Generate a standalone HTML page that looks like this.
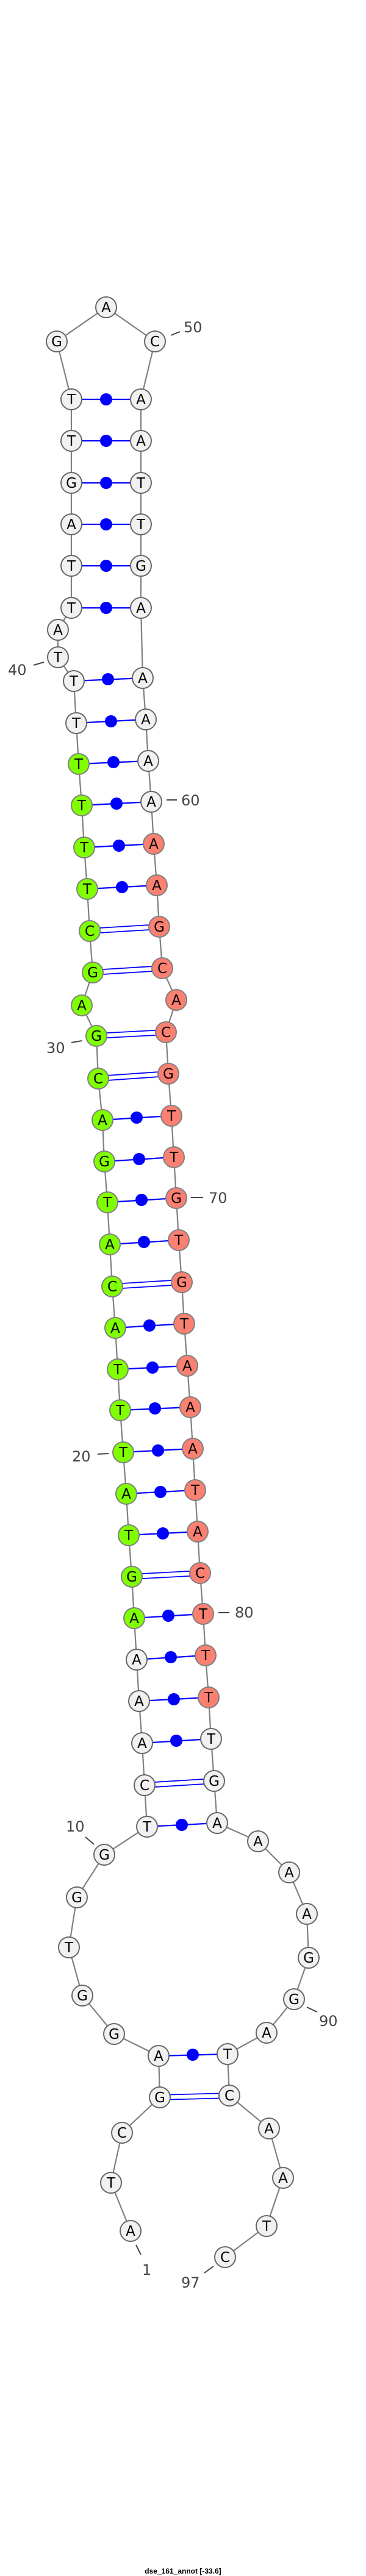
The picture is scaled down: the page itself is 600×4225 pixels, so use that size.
<!DOCTYPE html>
<html><head><meta charset="utf-8"><style>
html,body{margin:0;padding:0;background:#fff;}
svg{display:block;}
.b{fill:none;stroke:#808080;stroke-width:2.2;}
.p{stroke:#0000ff;stroke-width:2.2;}
.d{stroke:#0000ff;stroke-width:1.8;}
.w{fill:#f1f1f1;stroke:#666;stroke-width:2;}
.g{fill:#7fff00;stroke:#808080;stroke-width:2;}
.s{fill:#fa8072;stroke:#808080;stroke-width:2;}
.t{font-family:"DejaVu Sans","Liberation Sans",sans-serif;font-size:23px;text-anchor:middle;fill:#000;}
.n{font-family:"DejaVu Sans","Liberation Sans",sans-serif;font-size:24px;fill:#444;}
.k{stroke:#444;stroke-width:2;}
</style></head><body>
<svg width="600" height="4225" viewBox="0 0 600 4225" xmlns="http://www.w3.org/2000/svg">
<polyline class="b" points="214,3659 182,3580 200,3498 262,3440 260,3372 187,3336 135,3273 113,3194 126,3112 171,3042 241,2996 237,2928 233,2859 228,2790 224,2722 220,2654 216,2586 211,2518 207,2450 202,2382 197,2313 193,2246 189,2178 184,2110 180,2041 176,1972 171,1905 168,1837 161,1769 158,1699 134,1649 152,1595 147,1527 143,1458 138,1390 134,1321 129,1253 125,1186 121,1117 95,1078 95,1033 117,997 117,928 117,860 117,792 117,723 117,655 93,560 174,504 254,560 231,655 231,723 231,792 231,860 231,928 231,997 234,1112 239,1180 243,1248 248,1315 252,1384 257,1452 261,1520 266,1588 289,1640 272,1693 276,1761 281,1830 285,1898 289,1965 293,2034 298,2103 302,2171 307,2240 312,2308 316,2376 320,2444 324,2512 328,2580 333,2647 337,2715 342,2784 346,2852 351,2921 356,2990 423,3020 474,3071 503,3139 506,3211 482,3279 437,3334 373,3369 376,3437 441,3491 464,3572 437,3651 369,3702"/>
<!-- single pairs -->
<g class="p">
<line x1="241" y1="2996" x2="356" y2="2990"/>
<line x1="233" y1="2859" x2="346" y2="2852"/>
<line x1="228" y1="2790" x2="342" y2="2784"/>
<line x1="224" y1="2722" x2="337" y2="2715"/>
<line x1="220" y1="2654" x2="333" y2="2647"/>
<line x1="211" y1="2518" x2="324" y2="2512"/>
<line x1="207" y1="2450" x2="320" y2="2444"/>
<line x1="202" y1="2382" x2="316" y2="2376"/>
<line x1="197" y1="2313" x2="312" y2="2308"/>
<line x1="193" y1="2246" x2="307" y2="2240"/>
<line x1="189" y1="2178" x2="302" y2="2171"/>
<line x1="180" y1="2041" x2="293" y2="2034"/>
<line x1="176" y1="1972" x2="289" y2="1965"/>
<line x1="171" y1="1905" x2="285" y2="1898"/>
<line x1="168" y1="1837" x2="281" y2="1830"/>
<line x1="143" y1="1458" x2="257" y2="1452"/>
<line x1="138" y1="1390" x2="252" y2="1384"/>
<line x1="134" y1="1321" x2="248" y2="1315"/>
<line x1="129" y1="1253" x2="243" y2="1248"/>
<line x1="125" y1="1186" x2="239" y2="1180"/>
<line x1="121" y1="1117" x2="234" y2="1112"/>
<line x1="117" y1="997" x2="231" y2="997"/>
<line x1="117" y1="928" x2="231" y2="928"/>
<line x1="117" y1="860" x2="231" y2="860"/>
<line x1="117" y1="792" x2="231" y2="792"/>
<line x1="117" y1="723" x2="231" y2="723"/>
<line x1="117" y1="655" x2="231" y2="655"/>
<line x1="260" y1="3372" x2="373" y2="3369"/>
</g>
<g fill="#0000ff">
<circle cx="298" cy="2993" r="10"/><circle cx="289" cy="2855" r="10"/><circle cx="285" cy="2787" r="10"/><circle cx="280" cy="2718" r="10"/><circle cx="276" cy="2650" r="10"/><circle cx="267" cy="2515" r="10"/><circle cx="263" cy="2447" r="10"/><circle cx="259" cy="2379" r="10"/><circle cx="254" cy="2310" r="10"/><circle cx="250" cy="2243" r="10"/><circle cx="245" cy="2174" r="10"/><circle cx="236" cy="2037" r="10"/><circle cx="232" cy="1968" r="10"/><circle cx="228" cy="1901" r="10"/><circle cx="224" cy="1833" r="10"/><circle cx="200" cy="1455" r="10"/><circle cx="195" cy="1387" r="10"/><circle cx="191" cy="1318" r="10"/><circle cx="186" cy="1250" r="10"/><circle cx="182" cy="1183" r="10"/><circle cx="177" cy="1114" r="10"/><circle cx="174" cy="997" r="10"/><circle cx="174" cy="928" r="10"/><circle cx="174" cy="860" r="10"/><circle cx="174" cy="792" r="10"/><circle cx="174" cy="723" r="10"/><circle cx="174" cy="655" r="10"/><circle cx="316" cy="3370" r="10"/>
</g>
<!-- double pairs -->
<g class="d">
<line x1="237" y1="2924" x2="351" y2="2917"/><line x1="237" y1="2932" x2="351" y2="2925"/>
<line x1="216" y1="2582" x2="328" y2="2576"/><line x1="216" y1="2590" x2="328" y2="2584"/>
<line x1="184" y1="2106" x2="298" y2="2099"/><line x1="184" y1="2114" x2="298" y2="2107"/>
<line x1="161" y1="1765" x2="276" y2="1757"/><line x1="161" y1="1773" x2="276" y2="1765"/>
<line x1="158" y1="1695" x2="272" y2="1689"/><line x1="158" y1="1703" x2="272" y2="1697"/>
<line x1="152" y1="1591" x2="266" y2="1584"/><line x1="152" y1="1599" x2="266" y2="1592"/>
<line x1="147" y1="1523" x2="261" y2="1516"/><line x1="147" y1="1531" x2="261" y2="1524"/>
<line x1="262" y1="3436" x2="376" y2="3433"/><line x1="262" y1="3444" x2="376" y2="3441"/>
</g>
<!-- label ticks -->
<g class="k">
<line x1="280" y1="550" x2="295" y2="544"/>
<line x1="273" y1="1312" x2="290" y2="1312"/>
<line x1="313" y1="1964" x2="333" y2="1964"/>
<line x1="358" y1="2645" x2="376" y2="2645"/>
<line x1="503" y1="3292" x2="520" y2="3300"/>
<line x1="335" y1="3728" x2="350" y2="3717"/>
<line x1="223" y1="3682" x2="231" y2="3698"/>
<line x1="140" y1="3013" x2="154" y2="3025"/>
<line x1="160" y1="2385" x2="178" y2="2384"/>
<line x1="117" y1="1710" x2="134" y2="1707"/>
<line x1="55" y1="1091" x2="72" y2="1086"/>
</g>
<g class="n">
<text x="301" y="545">50</text>
<text x="297" y="1321">60</text>
<text x="342" y="1973">70</text>
<text x="385" y="2653">80</text>
<text x="523" y="3323">90</text>
<text x="297" y="3752">97</text>
<text x="233" y="3731">1</text>
<text x="108" y="3004">10</text>
<text x="118" y="2397">20</text>
<text x="76" y="1727">30</text>
<text x="13" y="1107">40</text>
</g>
<!-- nodes -->
<g>
<circle class="w" cx="214" cy="3659" r="17"/><circle class="w" cx="182" cy="3580" r="17"/><circle class="w" cx="200" cy="3498" r="17"/><circle class="w" cx="262" cy="3440" r="17"/><circle class="w" cx="260" cy="3372" r="17"/><circle class="w" cx="187" cy="3336" r="17"/><circle class="w" cx="135" cy="3273" r="17"/><circle class="w" cx="113" cy="3194" r="17"/><circle class="w" cx="126" cy="3112" r="17"/><circle class="w" cx="171" cy="3042" r="17"/><circle class="w" cx="241" cy="2996" r="17"/><circle class="w" cx="237" cy="2928" r="17"/><circle class="w" cx="233" cy="2859" r="17"/><circle class="w" cx="228" cy="2790" r="17"/><circle class="w" cx="224" cy="2722" r="17"/>
<circle class="g" cx="220" cy="2654" r="17"/><circle class="g" cx="216" cy="2586" r="17"/><circle class="g" cx="211" cy="2518" r="17"/><circle class="g" cx="207" cy="2450" r="17"/><circle class="g" cx="202" cy="2382" r="17"/><circle class="g" cx="197" cy="2313" r="17"/><circle class="g" cx="193" cy="2246" r="17"/><circle class="g" cx="189" cy="2178" r="17"/><circle class="g" cx="184" cy="2110" r="17"/><circle class="g" cx="180" cy="2041" r="17"/><circle class="g" cx="176" cy="1972" r="17"/><circle class="g" cx="171" cy="1905" r="17"/><circle class="g" cx="168" cy="1837" r="17"/><circle class="g" cx="161" cy="1769" r="17"/><circle class="g" cx="158" cy="1699" r="17"/><circle class="g" cx="134" cy="1649" r="17"/><circle class="g" cx="152" cy="1595" r="17"/><circle class="g" cx="147" cy="1527" r="17"/><circle class="g" cx="143" cy="1458" r="17"/><circle class="g" cx="138" cy="1390" r="17"/><circle class="g" cx="134" cy="1321" r="17"/><circle class="g" cx="129" cy="1253" r="17"/>
<circle class="w" cx="125" cy="1186" r="17"/><circle class="w" cx="121" cy="1117" r="17"/><circle class="w" cx="95" cy="1078" r="17"/><circle class="w" cx="95" cy="1033" r="17"/><circle class="w" cx="117" cy="997" r="17"/><circle class="w" cx="117" cy="928" r="17"/><circle class="w" cx="117" cy="860" r="17"/><circle class="w" cx="117" cy="792" r="17"/><circle class="w" cx="117" cy="723" r="17"/><circle class="w" cx="117" cy="655" r="17"/><circle class="w" cx="93" cy="560" r="17"/><circle class="w" cx="174" cy="504" r="17"/><circle class="w" cx="254" cy="560" r="17"/><circle class="w" cx="231" cy="655" r="17"/><circle class="w" cx="231" cy="723" r="17"/><circle class="w" cx="231" cy="792" r="17"/><circle class="w" cx="231" cy="860" r="17"/><circle class="w" cx="231" cy="928" r="17"/><circle class="w" cx="231" cy="997" r="17"/><circle class="w" cx="234" cy="1112" r="17"/><circle class="w" cx="239" cy="1180" r="17"/><circle class="w" cx="243" cy="1248" r="17"/><circle class="w" cx="248" cy="1315" r="17"/>
<circle class="s" cx="252" cy="1384" r="17"/><circle class="s" cx="257" cy="1452" r="17"/><circle class="s" cx="261" cy="1520" r="17"/><circle class="s" cx="266" cy="1588" r="17"/><circle class="s" cx="289" cy="1640" r="17"/><circle class="s" cx="272" cy="1693" r="17"/><circle class="s" cx="276" cy="1761" r="17"/><circle class="s" cx="281" cy="1830" r="17"/><circle class="s" cx="285" cy="1898" r="17"/><circle class="s" cx="289" cy="1965" r="17"/><circle class="s" cx="293" cy="2034" r="17"/><circle class="s" cx="298" cy="2103" r="17"/><circle class="s" cx="302" cy="2171" r="17"/><circle class="s" cx="307" cy="2240" r="17"/><circle class="s" cx="312" cy="2308" r="17"/><circle class="s" cx="316" cy="2376" r="17"/><circle class="s" cx="320" cy="2444" r="17"/><circle class="s" cx="324" cy="2512" r="17"/><circle class="s" cx="328" cy="2580" r="17"/><circle class="s" cx="333" cy="2647" r="17"/><circle class="s" cx="337" cy="2715" r="17"/><circle class="s" cx="342" cy="2784" r="17"/>
<circle class="w" cx="346" cy="2852" r="17"/><circle class="w" cx="351" cy="2921" r="17"/><circle class="w" cx="356" cy="2990" r="17"/><circle class="w" cx="423" cy="3020" r="17"/><circle class="w" cx="474" cy="3071" r="17"/><circle class="w" cx="503" cy="3139" r="17"/><circle class="w" cx="506" cy="3211" r="17"/><circle class="w" cx="482" cy="3279" r="17"/><circle class="w" cx="437" cy="3334" r="17"/><circle class="w" cx="373" cy="3369" r="17"/><circle class="w" cx="376" cy="3437" r="17"/><circle class="w" cx="441" cy="3491" r="17"/><circle class="w" cx="464" cy="3572" r="17"/><circle class="w" cx="437" cy="3651" r="17"/><circle class="w" cx="369" cy="3702" r="17"/>
</g>
<g class="t">
<text x="214" y="3667">A</text><text x="182" y="3588">T</text><text x="200" y="3506">C</text><text x="262" y="3448">G</text><text x="260" y="3380">A</text><text x="187" y="3344">G</text><text x="135" y="3281">G</text><text x="113" y="3202">T</text><text x="126" y="3120">G</text><text x="171" y="3050">G</text><text x="241" y="3004">T</text><text x="237" y="2936">C</text><text x="233" y="2867">A</text><text x="228" y="2798">A</text><text x="224" y="2730">A</text>
<text x="220" y="2662">A</text><text x="216" y="2594">G</text><text x="211" y="2526">T</text><text x="207" y="2458">A</text><text x="202" y="2390">T</text><text x="197" y="2321">T</text><text x="193" y="2254">T</text><text x="189" y="2186">A</text><text x="184" y="2118">C</text><text x="180" y="2049">A</text><text x="176" y="1980">T</text><text x="171" y="1913">G</text><text x="168" y="1845">A</text><text x="161" y="1777">C</text><text x="158" y="1707">G</text><text x="134" y="1657">A</text><text x="152" y="1603">G</text><text x="147" y="1535">C</text><text x="143" y="1466">T</text><text x="138" y="1398">T</text><text x="134" y="1329">T</text><text x="129" y="1261">T</text>
<text x="125" y="1194">T</text><text x="121" y="1125">T</text><text x="95" y="1086">T</text><text x="95" y="1041">A</text><text x="117" y="1005">T</text><text x="117" y="936">T</text><text x="117" y="868">A</text><text x="117" y="800">G</text><text x="117" y="731">T</text><text x="117" y="663">T</text><text x="93" y="568">G</text><text x="174" y="512">A</text><text x="254" y="568">C</text><text x="231" y="663">A</text><text x="231" y="731">A</text><text x="231" y="800">T</text><text x="231" y="868">T</text><text x="231" y="936">G</text><text x="231" y="1005">A</text><text x="234" y="1120">A</text><text x="239" y="1188">A</text><text x="243" y="1256">A</text><text x="248" y="1323">A</text>
<text x="252" y="1392">A</text><text x="257" y="1460">A</text><text x="261" y="1528">G</text><text x="266" y="1596">C</text><text x="289" y="1648">A</text><text x="272" y="1701">C</text><text x="276" y="1769">G</text><text x="281" y="1838">T</text><text x="285" y="1906">T</text><text x="289" y="1973">G</text><text x="293" y="2042">T</text><text x="298" y="2111">G</text><text x="302" y="2179">T</text><text x="307" y="2248">A</text><text x="312" y="2316">A</text><text x="316" y="2384">A</text><text x="320" y="2452">T</text><text x="324" y="2520">A</text><text x="328" y="2588">C</text><text x="333" y="2655">T</text><text x="337" y="2723">T</text><text x="342" y="2792">T</text>
<text x="346" y="2860">T</text><text x="351" y="2929">G</text><text x="356" y="2998">A</text><text x="423" y="3028">A</text><text x="474" y="3079">A</text><text x="503" y="3147">A</text><text x="506" y="3219">G</text><text x="482" y="3287">G</text><text x="437" y="3342">A</text><text x="373" y="3377">T</text><text x="376" y="3445">C</text><text x="441" y="3499">A</text><text x="464" y="3580">A</text><text x="437" y="3659">T</text><text x="369" y="3710">C</text>
</g>
<text x="300" y="4221" text-anchor="middle" font-family="'Liberation Sans',sans-serif" font-weight="bold" font-size="12" fill="#000">dse_161_annot [-33.6]</text>
</svg>
</body></html>
